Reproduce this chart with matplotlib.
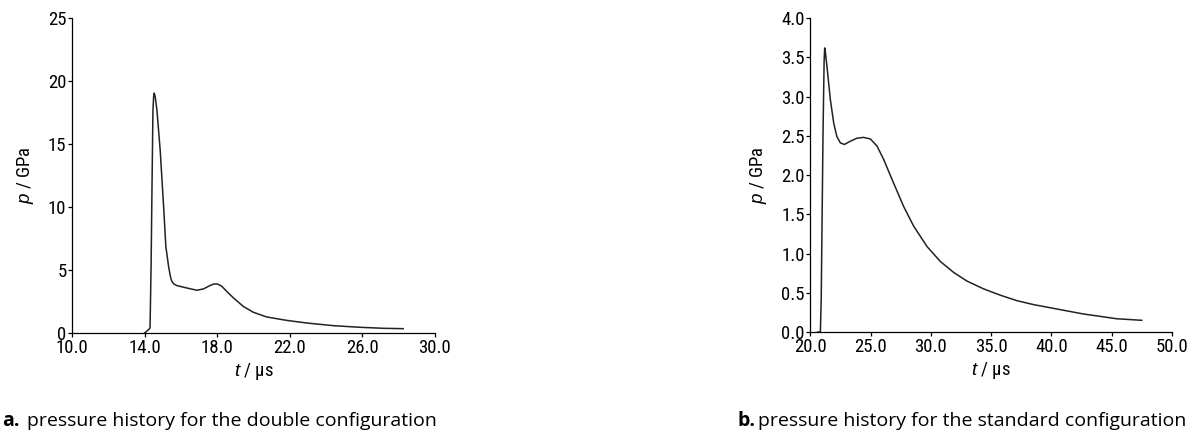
import matplotlib
matplotlib.use("Agg")
import matplotlib.pyplot as plt

# (a) double configuration
t_a = [14.0, 14.22, 14.3, 14.36, 14.4, 14.46, 14.5, 14.53, 14.58, 14.68, 14.86, 15.05, 15.17,
       15.32, 15.42, 15.5, 15.62, 15.78, 16.33, 16.88, 17.25, 17.6, 17.8, 17.98, 18.12, 18.26,
       18.53, 18.9, 19.45, 20.0, 20.73, 21.83, 22.94, 24.4, 25.87, 27.16, 28.26]
p_a = [0.0, 0.26, 0.4, 5.5, 10.6, 17.7, 18.8, 19.05, 18.8, 17.7, 14.5, 10.0, 6.9,
       5.3, 4.5, 4.1, 3.88, 3.76, 3.57, 3.39, 3.5, 3.76, 3.88, 3.89, 3.82, 3.7,
       3.3, 2.78, 2.1, 1.64, 1.27, 1.0, 0.79, 0.58, 0.45, 0.37, 0.34]

# (b) standard configuration
t_b = [20.6, 20.83, 20.9, 21.05, 21.14, 21.19, 21.25, 21.38, 21.66, 21.94, 22.2, 22.49, 22.82,
       23.3, 23.87, 24.42, 24.98, 25.53, 26.08, 26.9, 27.74, 28.57, 29.68, 30.78, 31.89,
       32.99, 34.38, 35.76, 37.14, 38.52, 39.9, 41.29, 42.67, 44.05, 45.4, 47.5]
p_b = [0.0, 0.0, 0.42, 2.53, 3.45, 3.62, 3.56, 3.38, 2.96, 2.66, 2.49, 2.41, 2.39,
       2.43, 2.47, 2.48, 2.46, 2.37, 2.2, 1.9, 1.6, 1.35, 1.09, 0.9, 0.76,
       0.65, 0.55, 0.47, 0.40, 0.35, 0.31, 0.27, 0.23, 0.20, 0.17, 0.15]

xticks_a = [10.0, 14.0, 18.0, 22.0, 26.0, 30.0]
yticks_a = [0, 5, 10, 15, 20, 25]
xticks_b = [20.0, 25.0, 30.0, 35.0, 40.0, 45.0, 50.0]
yticks_b = [0.0, 0.5, 1.0, 1.5, 2.0, 2.5, 3.0, 3.5, 4.0]

caption_a = "pressure history for the double configuration"
caption_b = "pressure history for the standard configuration"

tick_font = ["Liberation Sans Narrow", "Roboto Condensed", "Liberation Sans", "DejaVu Sans"]
plt.rcParams["font.family"] = tick_font
plt.rcParams["mathtext.fontset"] = "custom"
plt.rcParams["mathtext.it"] = "Liberation Sans:italic"
plt.rcParams["mathtext.rm"] = "Liberation Sans"

fig = plt.figure(figsize=(11.97, 4.41), dpi=100)
ax_a = fig.add_axes([0.0602, 0.245, 0.303, 0.714])
ax_b = fig.add_axes([0.677, 0.247, 0.302, 0.712])


def style(ax, xticks, yticks, xfmt, yfmt):
    for s in ["top", "right"]:
        ax.spines[s].set_visible(False)
    for s in ["left", "bottom"]:
        ax.spines[s].set_linewidth(0.9)
    ax.set_xlim(xticks[0], xticks[-1])
    ax.set_ylim(yticks[0], yticks[-1])
    ax.set_xticks(xticks)
    ax.set_yticks(yticks)
    ax.set_xticklabels([xfmt.format(v) for v in xticks])
    ax.set_yticklabels([yfmt.format(v) for v in yticks])
    ax.tick_params(direction="out", length=3, width=0.9, labelsize=13.5, pad=1)
    ax.set_xlabel(r"$t$ / µs", fontsize=13.5, labelpad=3)
    ax.set_ylabel(r"$p$ / GPa", fontsize=13.5, labelpad=9)


ax_a.plot(t_a, p_a, color="#222222", lw=1.1)
style(ax_a, xticks_a, yticks_a, "{:.1f}", "{:d}")

ax_b.plot(t_b, p_b, color="#222222", lw=1.1)
style(ax_b, xticks_b, yticks_b, "{:.1f}", "{:.1f}")

cap_font = ["Open Sans", "DejaVu Sans"]
fig.text(0.002, 0.045, "a.", fontsize=14, fontweight="bold", family=cap_font, va="center")
fig.text(0.0225, 0.045, caption_a, fontsize=14, family=cap_font, va="center")
fig.text(0.616, 0.045, "b.", fontsize=14, fontweight="bold", family=cap_font, va="center")
fig.text(0.6335, 0.045, caption_b, fontsize=14, family=cap_font, va="center")

fig.savefig("out.png", dpi=100)
